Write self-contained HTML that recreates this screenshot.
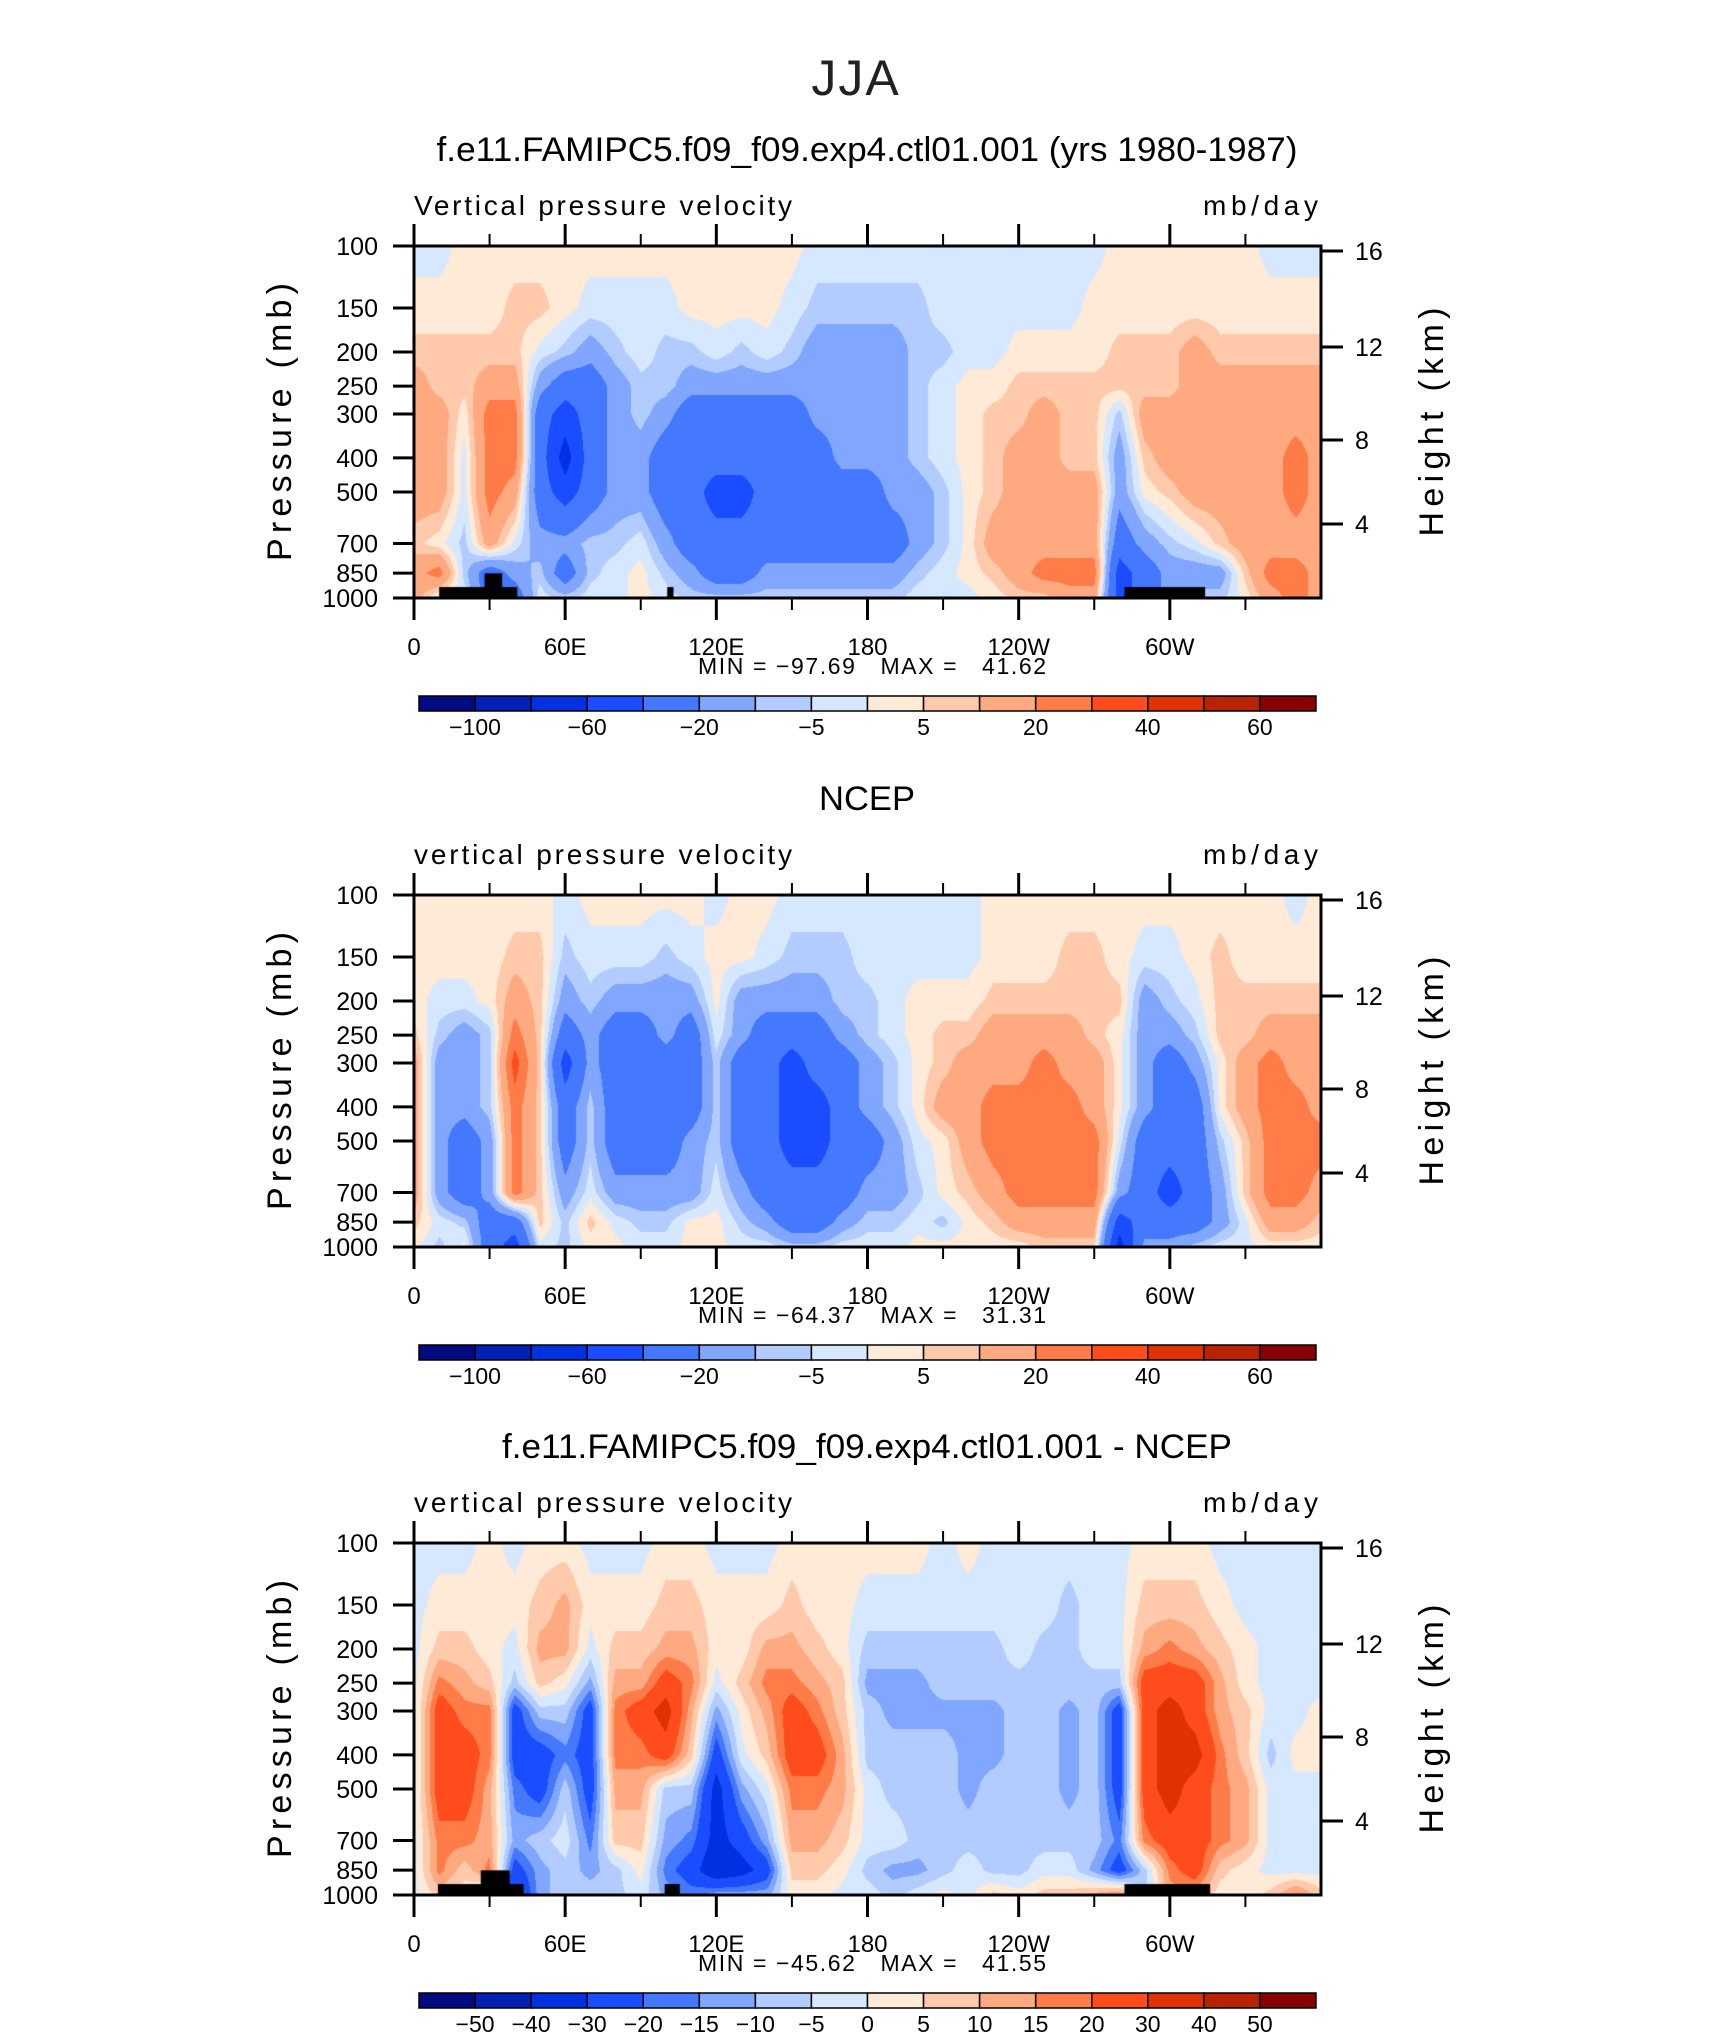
<!DOCTYPE html>
<html><head><meta charset="utf-8">
<style>
html,body{margin:0;padding:0;background:#fff;}
#root{position:relative;width:1710px;height:2038px;overflow:hidden;font-family:"Liberation Sans",sans-serif;}
canvas{position:absolute;left:0;top:0;}
svg{position:absolute;left:0;top:0;}
</style></head>
<body>
<div id="root">
<canvas id="cv" width="1710" height="2038"></canvas>
<svg id="sv" width="1710" height="2038" xmlns="http://www.w3.org/2000/svg"></svg>
</div>
<script>
// ---- data ----
const lons = [0,10,20,30,40,50,60,70,80,90,100,110,120,130,140,150,160,170,180,190,200,210,220,230,240,250,260,270,280,290,300,310,320,330,340,350,360];
const levels = [100,150,200,250,300,400,500,700,850,1000];
const pressTicks = [100,150,200,250,300,400,500,700,850,1000];
const heightTicks = [16,12,8,4];
const heightOffsets = [5,101,194,278];
const lonTickLabels = ["0","60E","120E","180","120W","60W"];
const colors = ["#020a80","#0021b4","#0031e0","#1a4dff","#4478ff","#80a6ff","#b3ccff","#d6e8ff","#ffe9d7","#ffc9ab","#ffa980","#ff7b47","#ff4c1c","#e03200","#b92400","#880000"];
const bins12 = [-100,-80,-60,-40,-20,-10,-5,0,5,10,20,30,40,50,60];
const bins3 = [-50,-40,-30,-20,-15,-10,-5,0,5,10,15,20,30,40,50];
const cbLabels12 = ["-100","-60","-20","-5","5","20","40","60"];
const cbLabels3 = ["-50","-40","-30","-20","-15","-10","-5","0","5","10","15","20","30","40","50"];
// values per longitude, levels 100..1000
const p1Vals = [
[-2,2,7,15,15,15,15,7,15,15],[-2,2,7,7,15,15,15,2,25,-2],[2,2,7,7,2,-2,-2,-7,-7,-2],[2,2,7,15,25,25,25,15,-30,-30],
[2,7,7,15,25,25,15,-2,-15,-30],[2,7,-2,-15,-30,-30,-30,-15,-7,-2],[2,2,-7,-30,-50,-70,-50,-15,-30,-7],[2,-2,-15,-30,-30,-30,-30,-7,-7,-2],
[2,-2,-7,-15,-15,-15,-15,-7,-2,-2],[2,-2,-2,-7,-7,-15,-15,-2,2,2],[2,-2,-7,-7,-15,-30,-30,-15,-7,-2],[2,2,-7,-15,-30,-30,-30,-30,-15,-7],
[2,2,-2,-15,-30,-30,-50,-30,-30,-7],[2,2,-7,-15,-30,-30,-50,-30,-30,-7],[2,2,-2,-15,-30,-30,-30,-30,-15,-7],[2,-2,-7,-15,-30,-30,-30,-30,-15,-7],
[-2,-7,-15,-15,-15,-30,-30,-30,-15,-7],[-2,-7,-15,-15,-15,-15,-30,-30,-15,-7],[-2,-7,-15,-15,-15,-15,-30,-30,-15,-7],[-2,-7,-15,-15,-15,-15,-15,-30,-15,-7],
[-2,-7,-7,-7,-7,-7,-15,-15,-7,-2],[-2,-2,-7,-2,-2,-2,-7,-7,-2,-2],[-2,-2,-2,2,2,2,2,2,2,-2],[-2,-2,-2,2,7,7,7,15,7,2],
[-2,-2,2,7,7,15,15,15,15,7],[-2,-2,2,7,15,15,15,15,25,7],[-2,-2,2,7,7,7,15,15,25,15],[-2,2,2,7,7,7,15,15,25,15],
[2,2,7,7,-7,-15,-15,-30,-50,-50],[2,2,7,7,15,7,2,-15,-30,-30],[2,2,7,7,15,15,7,-7,-15,-15],[2,2,15,15,15,15,15,-2,-15,-7],
[2,2,7,15,15,15,15,7,-15,-7],[2,2,7,15,15,15,15,15,7,2],[-2,2,7,15,15,15,15,15,25,15],[-2,2,7,15,15,25,25,15,25,25],
[-2,2,7,15,15,15,15,15,15,15]];
const p2Vals = [
[2,2,2,7,15,15,15,15,7,2],[2,2,-2,-7,-15,-15,-15,-15,-2,-7],[2,2,-2,-15,-15,-15,-30,-30,-7,2],[2,2,2,-7,-7,-7,-15,-15,-30,-30],
[2,7,15,25,35,25,25,25,-30,-50],[2,7,7,7,7,7,7,7,7,-2],[-2,-7,-15,-30,-50,-30,-30,-15,-7,-7],[2,-2,-7,-15,-15,-7,-7,-2,7,2],
[2,-2,-15,-30,-30,-30,-30,-15,-2,2],[2,-2,-15,-30,-30,-30,-30,-15,-7,-2],[2,-7,-15,-15,-30,-30,-30,-15,-7,-2],[2,-2,-15,-30,-30,-30,-15,-15,2,2],
[-2,2,2,-2,-7,-7,-7,-2,2,2],[2,2,-15,-15,-30,-30,-30,-15,-7,-2],[2,-2,-15,-30,-30,-30,-30,-30,-15,-2],[-2,-7,-15,-30,-50,-50,-50,-30,-30,-7],
[-2,-7,-15,-30,-30,-50,-50,-30,-30,-7],[-2,-7,-7,-15,-30,-30,-30,-30,-15,-2],[-2,-2,-7,-7,-15,-15,-30,-15,-7,-2],[-2,-2,-2,-2,-7,-7,-15,-15,-7,-2],
[-2,-2,2,2,2,2,-2,-7,-2,2],[-2,-2,2,7,7,15,2,2,-7,2],[-2,-2,2,7,15,15,15,7,2,2],[2,2,7,15,15,25,25,15,7,2],
[2,2,7,15,15,25,25,25,15,2],[2,2,7,15,25,25,25,25,15,7],[2,7,7,15,15,25,25,25,15,7],[2,7,7,7,15,15,25,25,15,7],
[2,2,7,2,2,2,-2,-15,-50,-70],[2,-2,-15,-15,-15,-15,-30,-30,-30,-15],[2,-2,-7,-15,-30,-30,-30,-50,-30,-15],[2,2,-2,-7,-15,-30,-30,-30,-30,-7],
[2,7,7,7,2,2,-7,-15,-15,-2],[2,2,7,7,15,15,7,7,-2,-2],[2,2,7,15,25,25,25,25,15,2],[-2,2,7,15,15,25,25,25,15,2],
[2,2,7,15,15,15,25,15,7,2]];
const p3Vals = [
[-2,-2,-2,-2,-2,-2,-2,-2,-2,-2],[-2,2,7,17,25,25,25,17,17,7],[-2,2,7,12,17,25,25,17,7,2],[2,2,2,7,17,17,12,12,17,-7],
[-2,2,-2,-7,-25,-25,-17,-12,-25,-35],[2,7,12,7,-7,-25,-25,-7,-12,-12],[2,12,12,2,-7,-17,-7,-2,-7,-7],[-2,2,-2,-12,-25,-25,-25,-17,-12,-7],
[-2,2,7,12,17,17,12,7,-7,-7],[-2,2,7,12,25,17,12,7,2,-2],[2,7,12,25,35,25,-7,-12,-17,-12],[2,7,12,17,12,7,-7,-17,-25,-17],
[-2,2,2,-2,-12,-25,-35,-35,-40,-12],[-2,2,2,7,2,-2,-12,-25,-35,-12],[-2,2,12,17,12,7,-2,-12,-25,-12],[2,7,12,17,25,25,17,12,7,2],
[2,2,7,12,17,25,17,12,7,2],[2,2,2,7,7,12,12,7,2,-2],[2,-2,-7,-12,-7,-7,-2,-2,-7,-2],[2,-2,-7,-12,-12,-7,-7,-2,-12,-7],
[2,-2,-7,-12,-12,-7,-7,-7,-12,-2],[-2,-2,-7,-7,-12,-7,-7,-7,-7,2],[2,-2,-7,-7,-12,-12,-12,-7,-2,-2],[-2,-2,-7,-7,-12,-12,-7,-7,-7,7],
[-2,-2,-2,-7,-7,-7,-7,-7,-7,2],[-2,-2,-7,-7,-7,-7,-7,-7,-2,7],[-2,-7,-7,-7,-12,-12,-12,-7,-2,7],[-2,-2,-2,-7,-7,-7,-7,-7,-12,12],
[-2,-2,-2,-7,-25,-25,-25,-17,-25,17],[2,7,12,25,25,25,25,17,-7,-7],[2,7,17,25,35,35,35,25,17,12],[2,7,12,25,25,35,25,25,25,12],
[-2,2,7,12,12,17,17,17,7,2],[-2,-2,2,2,7,7,12,12,2,2],[-2,-2,-2,-2,-2,-7,-2,-2,-2,7],[-2,-2,-2,-2,-2,2,-2,-2,-2,17],
[-2,-2,-2,-2,2,2,-2,-2,-2,7]];
// land mask: [lon0, lon1, pTop]
const land1 = [[10,41,931],[28,35,851],[100.5,103,931],[282,314,931]];
const land3 = [[9.5,43.5,931],[26.5,38,851],[99.5,105.5,931],[282,316,931]];

// ---- layout ----
const L = 414, R = 1321, H = 352;
const panels = [
  {top:246, vals:p1Vals, bins:bins12, cbl:cbLabels12, cbIdx:[1,3,5,7,9,11,13,15], land:land1,
   title:"f.e11.FAMIPC5.f09_f09.exp4.ctl01.001 (yrs 1980-1987)", tlen:861, sub:"Vertical pressure velocity", mm:"MIN = \u221297.69   MAX =   41.62", name:"model"},
  {top:895, vals:p2Vals, bins:bins12, cbl:cbLabels12, cbIdx:[1,3,5,7,9,11,13,15], land:[],
   title:"NCEP", tlen:96, sub:"vertical pressure velocity", mm:"MIN = \u221264.37   MAX =   31.31", name:"ncep"},
  {top:1543, vals:p3Vals, bins:bins3, cbl:cbLabels3, cbIdx:[1,2,3,4,5,6,7,8,9,10,11,12,13,14,15], land:land3,
   title:"f.e11.FAMIPC5.f09_f09.exp4.ctl01.001 - NCEP", tlen:730, sub:"vertical pressure velocity", mm:"MIN = \u221245.62   MAX =   41.55", name:"difference"}
];
const xOf = lon => L + (R-L)*lon/360;
const yOf = (top,p) => top + H*Math.log(p/100)/Math.log(10);

function hex(c){return [parseInt(c.substr(1,2),16),parseInt(c.substr(3,2),16),parseInt(c.substr(5,2),16)];}
const rgb = colors.map(hex);
function colorIdx(v,bins){let i=0;while(i<bins.length && v>=bins[i]) i++;return i;}

const ctx = document.getElementById('cv').getContext('2d');
const lnLev = levels.map(p=>Math.log(p));
panels.forEach(pn=>{
  const w = R-L, img = ctx.createImageData(w, H);
  for(let y=0;y<H;y++){
    const lp = Math.log(100)+ (y+0.5)/H*Math.log(10);
    let k=0; while(k<levels.length-2 && lp>lnLev[k+1]) k++;
    let fy=(lp-lnLev[k])/(lnLev[k+1]-lnLev[k]); fy=Math.max(0,Math.min(1,fy));
    for(let x=0;x<w;x++){
      const lon=(x+0.5)/w*360;
      let j=Math.min(lons.length-2,Math.floor(lon/10));
      const fx=(lon-lons[j])/(lons[j+1]-lons[j]);
      const a=pn.vals[j][k]*(1-fx)+pn.vals[j+1][k]*fx;
      const b=pn.vals[j][k+1]*(1-fx)+pn.vals[j+1][k+1]*fx;
      const v=a*(1-fy)+b*fy;
      const c=rgb[colorIdx(v,pn.bins)];
      const o=(y*w+x)*4; img.data[o]=c[0];img.data[o+1]=c[1];img.data[o+2]=c[2];img.data[o+3]=255;
    }
  }
  ctx.putImageData(img, L, pn.top);
  ctx.fillStyle="#000";
  pn.land.forEach(r=>{const y0=yOf(pn.top,r[2]);ctx.fillRect(xOf(r[0]),y0,xOf(r[1])-xOf(r[0]),pn.top+H-y0);});
});

// ---- svg overlay ----
const NS="http://www.w3.org/2000/svg", sv=document.getElementById('sv');
function el(tag,attrs,parent){const e=document.createElementNS(NS,tag);for(const k in attrs)e.setAttribute(k,attrs[k]);(parent||sv).appendChild(e);return e;}
function txt(s,attrs,parent){const e=el('text',attrs,parent);e.textContent=s;return e;}

const main = txt("JJA",{x:856,y:95,'font-size':50,'text-anchor':'middle',fill:'#222','letter-spacing':'2'});



panels.forEach(pn=>{
  const T=pn.top, B=T+H;
  const g=el('g',{});
  
  
  const t=txt(pn.title,{x:867,y:T-85,'font-size':34,'text-anchor':'middle',fill:'#000',textLength:pn.tlen,lengthAdjust:'spacingAndGlyphs'},g);
  
  
  const s=txt(pn.sub,{x:414,y:T-31,'font-size':28,fill:'#000',textLength:378,lengthAdjust:'spacing'},g);
  
  
  const u=txt("mb/day",{x:1203,y:T-31,'font-size':28,fill:'#000',textLength:115,lengthAdjust:'spacing'},g);
  
  
  const fr=el('rect',{x:L,y:T,width:R-L,height:H,fill:'none',stroke:'#000','stroke-width':3},g);
  
  
  for(let lon=0;lon<=330;lon+=30){
    const x=xOf(lon), major=lon%60===0, len=major?22:12;
    const tt=el('line',{x1:x,y1:T,x2:x,y2:T-len,stroke:'#000','stroke-width':major?3:2},g);
    
    
    const tb=el('line',{x1:x,y1:B,x2:x,y2:B+len,stroke:'#000','stroke-width':major?3:2},g);
    
    
    if(major){
      const lb=txt(lonTickLabels[lon/60],{x:x,y:B+57,'font-size':24,'text-anchor':'middle',fill:'#000'},g);
      
      
    }
  }
  pressTicks.forEach(p=>{
    const y=yOf(T,p);
    const tl=el('line',{x1:L-21,y1:y,x2:L,y2:y,stroke:'#000','stroke-width':3},g);
    
    
    const lb=txt(String(p),{x:378,y:y+9,'font-size':25,'text-anchor':'end',fill:'#000'},g);
    
    
  });
  heightTicks.forEach((h,i)=>{
    const y=T+heightOffsets[i];
    const tl=el('line',{x1:R,y1:y,x2:R+22,y2:y,stroke:'#000','stroke-width':3},g);
    
    
    const lb=txt(String(h),{x:1355,y:y+9,'font-size':25,fill:'#000'},g);
    
    
  });
  const yc=T+176;
  const pl=txt("Pressure  (mb)",{x:0,y:0,'font-size':34,'text-anchor':'middle',fill:'#000',textLength:278,lengthAdjust:'spacing',transform:`translate(291,${yc}) rotate(-90)`},g);
  
  
  const hl=txt("Height  (km)",{x:0,y:0,'font-size':34,'text-anchor':'middle',fill:'#000',textLength:229,lengthAdjust:'spacing',transform:`translate(1443,${yc}) rotate(-90)`},g);
  
  
  const mm=txt(pn.mm,{x:872,y:B+76,'font-size':23,'text-anchor':'middle',fill:'#000',style:'white-space:pre',textLength:348,lengthAdjust:'spacing'},g);
  
  
  // colorbar
  const cL=419, cR=1316, cT=B+98, cH=15, bw=(cR-cL)/16;
  colors.forEach((c,i)=>{
    const r=el('rect',{x:cL+i*bw,y:cT,width:bw,height:cH,fill:c,stroke:'#000','stroke-width':1.5},g);
    
    
  });
  pn.cbIdx.forEach((bi,i)=>{
    const lb=txt(pn.cbl[i].replace('-','\u2212'),{x:cL+bi*bw,y:cT+39,'font-size':23,'text-anchor':'middle',fill:'#000'},g);
    
    
  });
});
</script>
</body></html>
